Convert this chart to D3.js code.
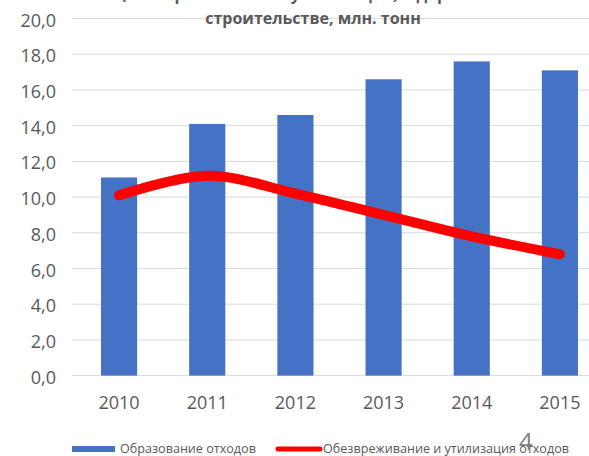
<!DOCTYPE html>
<html><head><meta charset="utf-8">
<script src="https://cdn.jsdelivr.net/npm/d3@7"></script>
<style>body{margin:0;background:#fff}svg{display:block}</style>
</head><body>
<svg id="c" width="589" height="456"></svg>
<script>
const years = ["2010","2011","2012","2013","2014","2015"];
const formed = [11.1, 14.1, 14.6, 16.6, 17.6, 17.1];
const utilized = [10.1, 11.2, 10.2, 9.0, 7.8, 6.8];
const yTicks = [0,2,4,6,8,10,12,14,16,18,20];
const titleLines = ["(обезвреживание и утилизация) в дорожном", "строительстве, млн. тонн"];
const legendLabels = ["Образование отходов", "Обезвреживание и утилизация отходов"];

const svg = d3.select("#c");
const font = "'Open Sans', sans-serif";
const grey = "#595959";

const y = d3.scaleLinear().domain([0,20]).range([375.6, 18.6]);
const x = d3.scaleBand().domain(years).range([75, 604]).paddingInner(0.59).paddingOuter(0.295);

// gridlines
svg.append("g").selectAll("line").data(yTicks).join("line")
  .attr("x1", 72).attr("x2", 589)
  .attr("y1", d => y(d)).attr("y2", d => y(d))
  .attr("stroke", "#d9d9d9").attr("stroke-width", 1);

// y labels
svg.append("g").selectAll("text").data(yTicks).join("text")
  .attr("x", 56).attr("y", d => y(d) + 8)
  .attr("text-anchor", "end").attr("font-family", font).attr("font-size", 18)
  .attr("fill", grey).text(d => d.toFixed(1).replace(".", ","));

// bars
svg.append("g").selectAll("rect").data(years).join("rect")
  .attr("x", d => x(d)).attr("width", x.bandwidth())
  .attr("y", (d,i) => y(formed[i])).attr("height", (d,i) => y(0) - y(formed[i]))
  .attr("fill", "#4472C4");

// line
const line = d3.line()
  .x((d,i) => x(years[i]) + x.bandwidth()/2)
  .y(d => y(d))
  .curve(d3.curveCardinal.tension(0));
svg.append("path").datum(utilized).attr("d", line)
  .attr("fill", "none").attr("stroke", "#FF0000").attr("stroke-width", 10)
  .attr("stroke-linecap", "round").attr("stroke-linejoin", "round");

// x labels
svg.append("g").selectAll("text").data(years).join("text")
  .attr("x", d => x(d) + x.bandwidth()/2).attr("y", 409)
  .attr("text-anchor", "middle").attr("font-family", font).attr("font-size", 18)
  .attr("fill", grey).text(d => d);

// title
svg.append("g").selectAll("text").data(titleLines).join("text")
  .attr("x", 313).attr("y", (d,i) => i === 0 ? 0 : 24)
  .attr("text-anchor", "middle").attr("font-family", font).attr("font-size", 16)
  .attr("font-weight", "bold").attr("fill", grey).text(d => d);

// legend
const lg = svg.append("g");
lg.append("rect").attr("x", 72).attr("y", 446).attr("width", 43).attr("height", 6).attr("fill", "#4472C4");
lg.append("text").attr("x", 120).attr("y", 453).attr("font-family", font).attr("font-size", 12.6)
  .attr("fill", grey).text(legendLabels[0]);
lg.append("line").attr("x1", 278).attr("x2", 320).attr("y1", 449).attr("y2", 449)
  .attr("stroke", "#FF0000").attr("stroke-width", 5).attr("stroke-linecap", "round");
lg.append("text").attr("x", 323).attr("y", 453).attr("font-family", font).attr("font-size", 12.6)
  .attr("fill", grey).text(legendLabels[1]);

// page number
svg.append("text").attr("x", 519).attr("y", 450).attr("font-family", font).attr("font-size", 24)
  .attr("fill", "#7f7f7f").text("4");
</script>
</body></html>
